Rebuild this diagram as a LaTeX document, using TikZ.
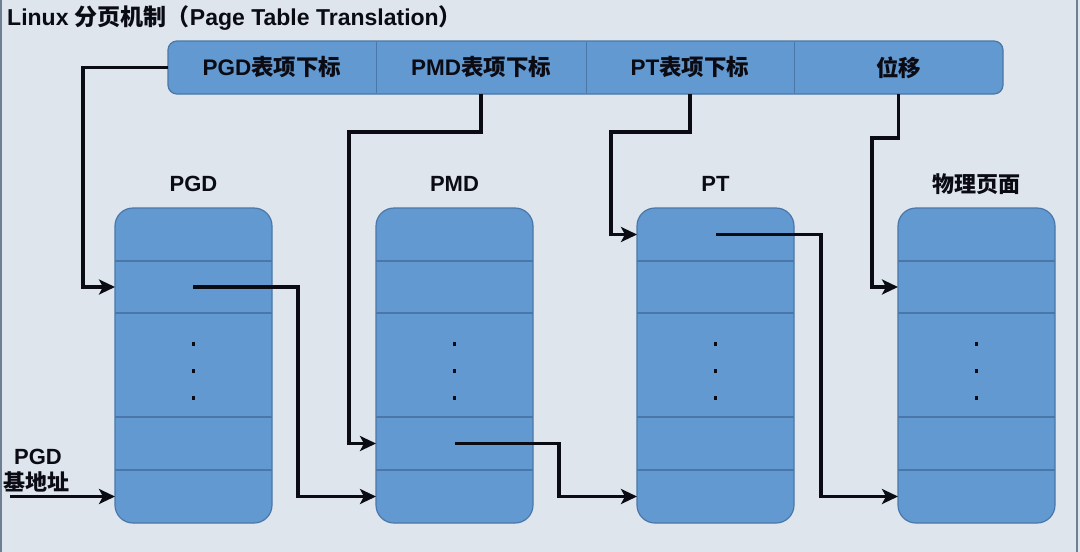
\documentclass[tikz,border=0pt]{standalone}
\usepackage{fontspec}
\setmainfont{Liberation Sans}
\newfontfamily\cjk{Noto Sans CJK SC}
\usetikzlibrary{arrows.meta}
\definecolor{bg}{HTML}{DEE5ED}
\definecolor{cell}{HTML}{6399D1}
\definecolor{edge}{HTML}{4A77A8}
\definecolor{ink}{HTML}{0B0B14}
\definecolor{frame}{HTML}{6E7E94}
\begin{document}
\begin{tikzpicture}[x=1pt,y=-1pt,
  lbl/.style={font=\fontsize{22}{24}\selectfont\bfseries, text=ink, inner sep=0pt},
  tbl/.style={draw=edge, line width=1.2pt, fill=cell, rounded corners=18pt,
    minimum width=157pt, minimum height=315pt, inner sep=0pt},
  barbox/.style={draw=edge, line width=1.2pt, fill=cell, rounded corners=9pt,
    minimum width=835pt, minimum height=53pt, inner sep=0pt},
  barcell/.style={lbl, font=\fontsize{22.5}{24}\selectfont\bfseries, minimum height=53pt},
  rowline/.style={draw=edge, line width=1.3pt},
  conn/.style={draw=ink, line width=3.2pt, line join=miter,
    -{Stealth[length=16pt,width=15pt,inset=4pt]}},
  frameline/.style={draw=frame, line width=2pt}
]
\useasboundingbox (0,0) rectangle (1080,552);
\fill[bg] (0,0) rectangle (1080,552);
\draw[frameline] (1,0) -- (1,552);
\draw[frameline] (1077,0) -- (1077,552);

% title
\node[anchor=west, font=\fontsize{23}{26}\selectfont\bfseries, text=ink, inner sep=0pt]
  (title) at (7,18) {Linux {\cjk 分页机制（}Page Table Translation{\cjk ）}};

% top bar
\node[barbox] (bar) at (585.5,67.5) {};
\node[barcell, minimum width=208pt] (c1) at (272,67.5) {PGD{\cjk 表项下标}};
\node[barcell, minimum width=210pt] (c2) at (481,67.5) {PMD{\cjk 表项下标}};
\node[barcell, minimum width=208pt] (c3) at (690,67.5) {PT{\cjk 表项下标}};
\node[barcell, minimum width=209pt] (c4) at (898.5,67.5) {{\cjk 位移}};
\foreach \x in {376,586,794} \draw[draw=edge, line width=1pt] (\x,41.6) -- (\x,93.4);

% tables
\node[tbl] (pgd) at (193.5,365.5) {};
\node[tbl] (pmd) at (454.5,365.5) {};
\node[tbl] (pt)  at (715.5,365.5) {};
\node[tbl] (phy) at (976.5,365.5) {};
\foreach \x in {115,376,637,898}
  \foreach \y in {261,313,417,470}
    \draw[rowline] (\x,\y) -- ++(157,0);
\foreach \x in {193.5,454.5,715.5,976.5}
  \foreach \y in {344,371,398}
    \fill[ink] (\x-1.9,\y-1.9) rectangle ++(3.8,3.8);

% table titles
\node[lbl] (lpgd) at (193.5,184) {PGD};
\node[lbl] (lpmd) at (454.5,184) {PMD};
\node[lbl] (lpt)  at (715.5,184) {PT};
\node[lbl] (lphy) at (976.5,184) {{\cjk 物理页面}};
\node[lbl] (lbase1) at (38,457) {PGD};
\node[lbl] (lbase2) at (37,482) {{\cjk 基地址}};

% entry points
\coordinate (pgdR2) at (115,287);
\coordinate (pgdR5) at (115,496.5);
\coordinate (pmdR4) at (376,443.5);
\coordinate (pmdR5) at (376,496.5);
\coordinate (ptR1)  at (637,234.5);
\coordinate (ptR5)  at (637,496.5);
\coordinate (phyR2) at (898,287);
\coordinate (phyR5) at (898,496.5);
\coordinate (pgdP) at (193,287);
\coordinate (pmdP) at (455,443.5);
\coordinate (ptP)  at (716,234.5);
\coordinate (baseS) at (10,496.5);

% connectors
\draw[conn] (c1.west) -- (83,67.5) |- (pgdR2);
\draw[conn] (c2.south) |- (349,132) |- (pmdR4);
\draw[conn] (c3.south) |- (611,132) |- (ptR1);
\draw[conn] (c4.south) |- (872,138) |- (phyR2);
\draw[conn] (pgdP) -| (298,496.5) -- (pmdR5);
\draw[conn] (pmdP) -| (559,496.5) -- (ptR5);
\draw[conn] (ptP) -| (821,496.5) -- (phyR5);
\draw[conn] (baseS) -- (pgdR5);
\end{tikzpicture}
\end{document}
